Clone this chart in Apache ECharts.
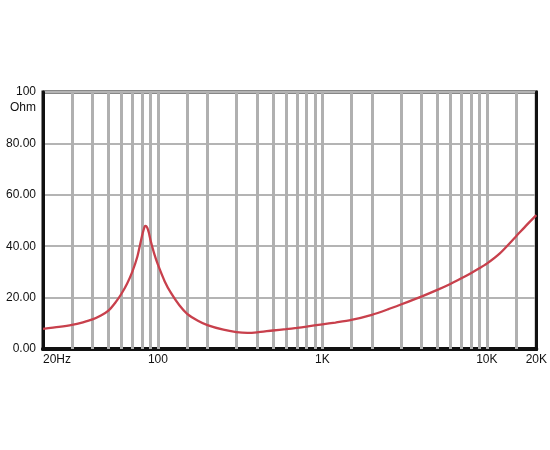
<!DOCTYPE html>
<html>
<head>
<meta charset="utf-8">
<script src="https://cdn.jsdelivr.net/npm/echarts@6/dist/echarts.min.js"></script>
<style>
html,body{margin:0;padding:0;background:#fff;}
#chart{width:550px;height:450px;}
</style>
</head>
<body>
<div id="chart"></div>
<script>
// Frequency (Hz) and impedance (Ohm)
var freqs = [20,25,30,35,40,45,50,55,60,65,70,75,78,80,82,83,84,86,88,90,95,100,110,120,135,150,175,200,250,300,350,400,500,600,700,800,1000,1200,1500,2000,2500,3000,4000,5000,6000,7000,8000,9000,10000,12000,15000,17500,20000];
var impedance = [7.8,8.6,9.4,10.4,11.5,13.0,14.9,18.0,21.5,25.5,30.2,36.0,40.8,44.0,46.6,47.6,47.9,47.3,45.3,42.5,37.0,32.8,26.3,21.8,17.0,13.8,11.0,9.3,7.5,6.6,6.3,6.5,7.2,7.7,8.2,8.7,9.6,10.3,11.3,13.3,15.4,17.3,20.4,23.0,25.3,27.5,29.5,31.4,33.2,37.2,43.7,48.3,52.1];
// Vertical grid line frequencies
var gridFreqs = [30,40,50,60,70,80,90,100,150,200,300,400,500,600,700,800,900,1000,1500,2000,3000,4000,5000,6000,7000,8000,9000,10000,15000];
// X tick labels
var xTickValues = [20,100,1000,10000,20000];
var xTickLabels = ['20Hz','100','1K','10K','20K'];

var chart = echarts.init(document.getElementById('chart'));
var data = freqs.map(function(f,i){return [f, impedance[i]];});

function xLabel(v){
  var r = Math.round(v);
  for (var i=0;i<xTickValues.length;i++){
    if (Math.abs(xTickValues[i]-r) <= r*0.001) return xTickLabels[i];
  }
  return '';
}

chart.setOption({
  animation:false,
  grid:{left:43,right:13,top:92,bottom:101,show:true,borderColor:'#111',borderWidth:3,backgroundColor:'transparent'},
  xAxis:[{
    type:'log', logBase:10, min:20, max:20000,
    axisLine:{show:true,lineStyle:{color:'#111',width:4}},
    axisTick:{show:false},
    splitLine:{show:false},
    minorTick:{show:false},
    axisLabel:{
      customValues: xTickValues,
      formatter:function(v){return xLabel(v);},
      color:'#111', fontSize:12, fontFamily:'Liberation Sans, Arial, sans-serif',
      margin:5, alignMinLabel:'left', showMinLabel:true, showMaxLabel:true, hideOverlap:false
    }
  },{
    type:'log', logBase:10, min:20, max:20000, position:'top',
    axisLine:{show:true,lineStyle:{color:'#111',width:3}},
    axisTick:{show:false}, splitLine:{show:false}, axisLabel:{show:false}
  }],
  yAxis:[{
    type:'value', min:0, max:100, interval:20,
    axisLine:{show:true,lineStyle:{color:'#111',width:3}},
    axisTick:{show:false},
    splitLine:{show:true,lineStyle:{color:'#b4b4b4',width:2}},
    axisLabel:{
      formatter:function(v){ return v===100 ? ' \n100\nOhm' : v.toFixed(2); },
      color:'#111', fontSize:12, lineHeight:16, fontFamily:'Liberation Sans, Arial, sans-serif',
      margin:7
    }
  },{
    type:'value', min:0, max:100, interval:20, position:'right',
    axisLine:{show:true,lineStyle:{color:'#111',width:3}},
    axisTick:{show:false}, splitLine:{show:false}, axisLabel:{show:false}
  }],
  series:[{
    type:'line',
    data:data,
    smooth:0.25,
    symbol:'none',
    lineStyle:{color:'#c8404c',width:2.3},
    z:5,
    markLine:{
      silent:true,
      symbol:['none','none'],
      label:{show:false},
      lineStyle:{color:'#b0b0b0',width:3,type:'solid'},
      data:gridFreqs.map(function(f){return {xAxis:f};}),
      z:1
    }
  }]
});
</script>
</body>
</html>
